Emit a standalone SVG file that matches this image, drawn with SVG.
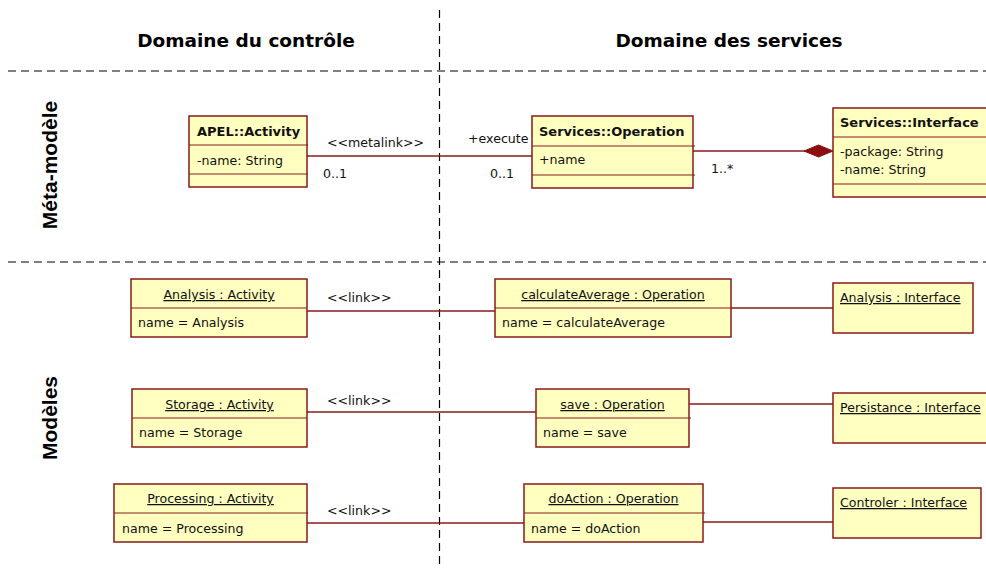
<svg xmlns="http://www.w3.org/2000/svg" width="986" height="568" viewBox="0 0 986 568">
<style>
.box{fill:#FFFFC0;stroke:#8B1A1A;stroke-width:1.5}
.div{stroke:#8B1A1A;stroke-width:1.2;fill:none}
.t{font-family:"DejaVu Sans",Verdana,sans-serif;font-size:12.6px;fill:#111}
.b{font-family:"DejaVu Sans",Verdana,sans-serif;font-size:13px;font-weight:bold;fill:#111}
.u{text-decoration:underline}
.c{text-anchor:middle}
.hd{font-family:"DejaVu Sans",Verdana,sans-serif;font-size:18.5px;font-weight:bold;fill:#000;text-anchor:middle}
.side{font-family:"Liberation Sans",Arial,sans-serif;font-size:21px;font-weight:bold;fill:#000;text-anchor:middle}
.dash{stroke:#000;stroke-width:1.2;stroke-dasharray:8 5;fill:none}
.ln{stroke:#8B1A1A;stroke-width:1.3;fill:none}
</style>
<rect width="986" height="568" fill="#fff"/>
<g id="grid">
<line class="dash" x1="439.5" y1="10" x2="439.5" y2="568"/>
<line class="dash" x1="8" y1="71" x2="986" y2="71"/>
<line class="dash" x1="8" y1="262" x2="986" y2="262"/>
<text class="hd" x="246" y="47">Domaine du contrôle</text>
<text class="hd" x="729" y="47">Domaine des services</text>
<text class="side" transform="translate(57,165) rotate(-90)">Méta-modèle</text>
<text class="side" transform="translate(57,418) rotate(-90)">Modèles</text>
</g>
<g id="connectors">
<line class="ln" x1="307" y1="156" x2="532" y2="156"/>
<text class="t" x="327" y="147">&lt;&lt;metalink&gt;&gt;</text>
<text class="t" x="323" y="178">0..1</text>
<text class="t" x="468" y="143">+execute</text>
<text class="t" x="490" y="178">0..1</text>
<line class="ln" x1="693" y1="151" x2="805" y2="151"/>
<polygon points="804,151 818.5,145 833,151 818.5,157" fill="#8B0F0F" stroke="#8B0F0F" stroke-width="1"/>
<text class="t" x="711" y="173">1..*</text>
<line class="ln" x1="307" y1="311" x2="495" y2="311"/>
<text class="t" x="327" y="302">&lt;&lt;link&gt;&gt;</text>
<line class="ln" x1="731" y1="308" x2="833" y2="308"/>
<line class="ln" x1="307" y1="412" x2="536" y2="412"/>
<text class="t" x="327" y="405">&lt;&lt;link&gt;&gt;</text>
<line class="ln" x1="689" y1="404" x2="833" y2="404"/>
<line class="ln" x1="307" y1="523" x2="524" y2="523"/>
<text class="t" x="327" y="515">&lt;&lt;link&gt;&gt;</text>
<line class="ln" x1="703" y1="522" x2="833" y2="522"/>
</g>
<g id="apel-activity">
<rect class="box" x="189" y="116" width="118" height="71"/>
<line class="div" x1="189" y1="145" x2="308" y2="145"/>
<line class="div" x1="189" y1="174" x2="308" y2="174"/>
<text class="b" x="197" y="136">APEL::Activity</text>
<text class="t" x="197" y="165">-name: String</text>
</g>
<g id="services-operation">
<rect class="box" x="532" y="116" width="161" height="72"/>
<line class="div" x1="532" y1="146" x2="695" y2="146"/>
<line class="div" x1="532" y1="175" x2="695" y2="175"/>
<text class="b" x="539" y="136">Services::Operation</text>
<text class="t" x="539" y="164">+name</text>
</g>
<g id="services-interface">
<rect class="box" x="833" y="108" width="160" height="89"/>
<line class="div" x1="833" y1="137" x2="993" y2="137"/>
<line class="div" x1="833" y1="184" x2="993" y2="184"/>
<text class="b" x="840" y="127">Services::Interface</text>
<text class="t" x="840" y="156">-package: String</text>
<text class="t" x="840" y="174">-name: String</text>
</g>
<g id="analysis-activity">
<rect class="box" x="131" y="279" width="176" height="58"/>
<line class="div" x1="131" y1="308" x2="307" y2="308"/>
<text class="t u c" x="219" y="299">Analysis : Activity</text>
<text class="t" x="138" y="327">name = Analysis</text>
</g>
<g id="calculateAverage-operation">
<rect class="box" x="495" y="279" width="236" height="58"/>
<line class="div" x1="495" y1="308" x2="731" y2="308"/>
<text class="t u c" x="613" y="299">calculateAverage : Operation</text>
<text class="t" x="502" y="327">name = calculateAverage</text>
</g>
<g id="analysis-interface">
<rect class="box" x="833" y="283" width="140" height="50"/>
<text class="t u" x="840" y="302">Analysis : Interface</text>
</g>
<g id="storage-activity">
<rect class="box" x="132" y="389" width="175" height="58"/>
<line class="div" x1="132" y1="418" x2="307" y2="418"/>
<text class="t u c" x="219.5" y="409">Storage : Activity</text>
<text class="t" x="139" y="437">name = Storage</text>
</g>
<g id="save-operation">
<rect class="box" x="536" y="389" width="153" height="58"/>
<line class="div" x1="536" y1="418" x2="691" y2="418"/>
<text class="t u c" x="612.5" y="409">save : Operation</text>
<text class="t" x="543" y="437">name = save</text>
</g>
<g id="persistance-interface">
<rect class="box" x="833" y="393" width="160" height="50"/>
<text class="t u" x="840" y="412">Persistance : Interface</text>
</g>
<g id="processing-activity">
<rect class="box" x="114" y="484" width="193" height="58"/>
<line class="div" x1="114" y1="513" x2="308" y2="513"/>
<text class="t u c" x="210.5" y="503">Processing : Activity</text>
<text class="t" x="122" y="533">name = Processing</text>
</g>
<g id="doAction-operation">
<rect class="box" x="524" y="484" width="179" height="58"/>
<line class="div" x1="524" y1="513" x2="705" y2="513"/>
<text class="t u c" x="613.5" y="503">doAction : Operation</text>
<text class="t" x="531" y="533">name = doAction</text>
</g>
<g id="controler-interface">
<rect class="box" x="833" y="488" width="148" height="50"/>
<text class="t u" x="840" y="507">Controler : Interface</text>
</g>
</svg>
